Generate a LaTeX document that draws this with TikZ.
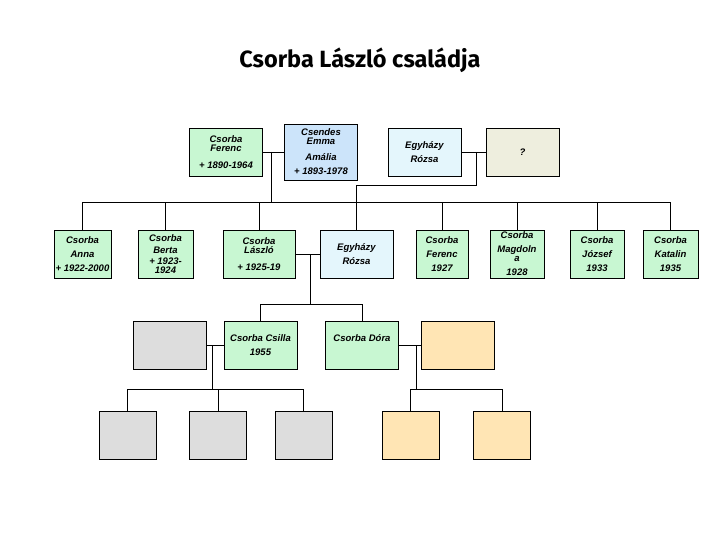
\documentclass[tikz,border=0pt]{standalone}
\usepackage{fontspec}
\setmainfont{Liberation Sans}
\newfontfamily\titlefont{Fira Sans}
\usetikzlibrary{positioning}

\definecolor{mint}{HTML}{C8F7D2}
\definecolor{skyblue}{HTML}{CCE4FA}
\definecolor{icecyan}{HTML}{E4F6FC}
\definecolor{beige}{HTML}{EEEEDE}
\definecolor{ashgray}{HTML}{DDDDDD}
\definecolor{peach}{HTML}{FFE5B4}

\begin{document}
\begin{tikzpicture}[x=1pt,y=-1pt]
    % settings for the whole tree
    \tikzset{
      person/.style={draw, line width=0.9pt, inner sep=0pt, minimum height=48pt,
        align=center, font=\fontsize{9.5}{14}\selectfont\bfseries\itshape},
      wide/.style={person, minimum width=73pt},
      slim/.style={person, minimum width=55pt},
      link/.style={line width=0.8pt},
    }
    \useasboundingbox (0,0) rectangle (720,540);

    \node[font=\titlefont\bfseries\fontsize{23.5}{28}\selectfont] (title) at (360,60) {Csorba László családja};

    % first generation
    \node[wide, fill=mint] (ferenc) at (226,152) {Csorba\\[-5pt]Ferenc\\[3pt]+ 1890-1964};
    \node[wide, fill=skyblue, minimum height=56pt] (emma) at (321,152) {Csendes\\[-5pt]Emma\\[2pt]Amália\\+ 1893-1978};
    \node[wide, fill=icecyan] (rozsa1) at (424.5,152) {Egyházy\\Rózsa};
    \node[wide, fill=beige] (unknown) at (522.5,152) {?};

    % second generation
    \node[slim, fill=mint, minimum width=57pt] (anna) at (82.5,254) {Csorba\\Anna\\+ 1922-2000};
    \node[slim, fill=mint] (berta) at (165.5,254) {Csorba\\[-2pt]Berta\\[-3pt]+ 1923-\\[-5pt]1924};
    \node[wide, fill=mint, minimum width=72pt] (laszlo) at (259,254) {Csorba\\[-5pt]László\\[3pt]+ 1925-19};
    \node[wide, fill=icecyan] (rozsa2) at (356.5,254) {Egyházy\\Rózsa};
    \node[slim, fill=mint, minimum width=52pt] (ferenc2) at (442,254) {Csorba\\Ferenc\\1927};
    \node[slim, fill=mint, minimum width=54pt] (magdolna) at (517,254) {Csorba\\Magdoln\\[-5pt]a\\1928};
    \node[slim, fill=mint, minimum width=54pt] (jozsef) at (597,254) {Csorba\\József\\1933};
    \node[slim, fill=mint] (katalin) at (670.5,254) {Csorba\\Katalin\\1935};

    % third generation
    \node[wide, fill=ashgray] (spouse1) at (169.5,345) {};
    \node[wide, fill=mint] (csilla) at (260.5,345) {Csorba Csilla\\1955};
    \node[wide, fill=mint] (dora) at (362,345) {Csorba Dóra\\\mbox{}};
    \node[wide, fill=peach] (spouse2) at (458,345) {};

    % fourth generation
    \node[slim, fill=ashgray, minimum width=57pt] (gray1) at (127.5,435) {};
    \node[slim, fill=ashgray, minimum width=57pt] (gray2) at (218,435) {};
    \node[slim, fill=ashgray, minimum width=57pt] (gray3) at (303.5,435) {};
    \node[slim, fill=peach, minimum width=57pt] (peach1) at (410.5,435) {};
    \node[slim, fill=peach, minimum width=57pt] (peach2) at (502,435) {};

    % couples and their children
    \coordinate (m1) at (271,152);
    \coordinate (m2) at (476,152);
    \coordinate (m3) at (310,254);
    \coordinate (m4) at (212,345);
    \coordinate (m5) at (416,345);
    \coordinate (bar1) at (0,202);
    \coordinate (bar2) at (0,185);
    \coordinate (bar3) at (0,304);
    \coordinate (bar4) at (0,389);

    \draw[link] (ferenc) -- (emma)
                (m1) -- (m1 |- bar1)
                (anna |- bar1) -- (katalin |- bar1);
    \foreach \kid in {anna, berta, laszlo, ferenc2, magdolna, jozsef, katalin}
      \draw[link] (\kid.north) -- (\kid |- bar1);

    \draw[link] (rozsa1) -- (unknown)
                (m2) |- (bar2 -| rozsa2) -- (rozsa2.north);

    \draw[link] (laszlo) -- (rozsa2)
                (m3) -- (m3 |- bar3)
                (csilla |- bar3) -- (dora |- bar3);
    \foreach \kid in {csilla, dora}
      \draw[link] (\kid.north) -- (\kid |- bar3);

    \draw[link] (spouse1) -- (csilla)
                (m4) -- (m4 |- bar4)
                (gray1 |- bar4) -- (gray3 |- bar4);
    \foreach \kid in {gray1, gray2, gray3}
      \draw[link] (\kid.north) -- (\kid |- bar4);

    \draw[link] (dora) -- (spouse2)
                (m5) -- (m5 |- bar4)
                (peach1 |- bar4) -- (peach2 |- bar4);
    \foreach \kid in {peach1, peach2}
      \draw[link] (\kid.north) -- (\kid |- bar4);

\end{tikzpicture}
\end{document}
